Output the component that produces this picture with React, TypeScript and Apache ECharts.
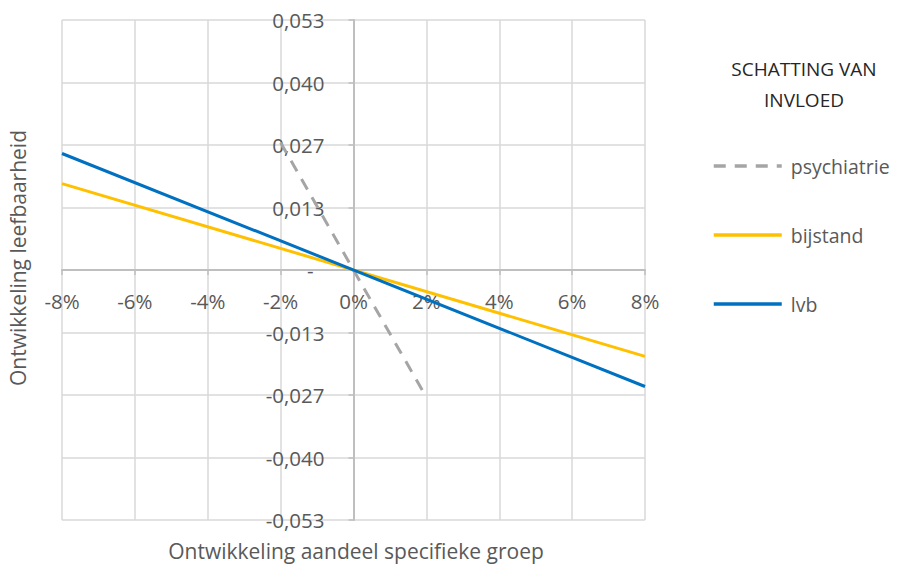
import React, { useEffect, useRef } from "react";
import * as echarts from "echarts";

const seriesNames = ["psychiatrie", "bijstand", "lvb"];
const psychiatrieX = [-2, 2];
const psychiatrieY = [0.027, -0.027];
const bijstandX = [-8, 8];
const bijstandY = [0.0183, -0.0183];
const lvbX = [-8, 8];
const lvbY = [0.0247, -0.0247];
const colors = ["#A5A5A5", "#FFC000", "#0070C0"];

const xMin = -8;
const xMax = 8;
const xInterval = 2;
const yMin = -0.053;
const yMax = 0.053;
const yInterval = 0.01325;
const yTickLabels = ["-0,053", "-0,040", "-0,027", "-0,013", "-", "0,013", "0,027", "0,040", "0,053"];

const xTitle = "Ontwikkeling aandeel specifieke groep";
const yTitle = "Ontwikkeling leefbaarheid";
const legendTitle = ["SCHATTING VAN", "INVLOED"];

const FONT = "Open Sans";
const TXT = "#595959";
const LBL = 20.5;

function pairs(xs: number[], ys: number[]) {
  return xs.map((x, i) => [x, ys[i]]);
}

export default function App() {
  const ref = useRef<HTMLDivElement>(null);
  useEffect(() => {
    if (!ref.current) return;
    const chart = echarts.init(ref.current, undefined, { renderer: "svg" });
    const legendCenters = [166, 235, 304];
    const gridLeft = 62;
    const gridRight = 252;
    const gridTop = 20;
    const gridBottom = 46;
    const plotW = 897 - gridLeft - gridRight;
    const plotH = 566 - gridTop - gridBottom;
    // shift axes onto the zero lines (symmetric ranges)
    const xOffset = -(plotH * (0 - yMin)) / (yMax - yMin);
    const yOffset = -(plotW * (0 - xMin)) / (xMax - xMin);
    chart.setOption({
      animation: false,
      grid: { left: gridLeft, right: gridRight, top: gridTop, bottom: gridBottom },
      xAxis: {
        type: "value",
        min: xMin,
        max: xMax,
        interval: xInterval,
        position: "bottom",
        offset: xOffset,
        axisLine: { onZero: false, lineStyle: { color: "#BFBFBF", width: 2 } },
        axisTick: { show: true, length: 5, lineStyle: { color: "#BFBFBF", width: 1.5 } },
        splitLine: { show: true, lineStyle: { color: "#D9D9D9", width: 1.5 } },
        axisLabel: {
          formatter: (v: number) => `${v}%`,
          color: TXT,
          fontFamily: FONT,
          fontSize: LBL,
          margin: 20,
        },
      },
      yAxis: {
        type: "value",
        min: yMin,
        max: yMax,
        interval: yInterval,
        position: "left",
        offset: yOffset,
        axisLine: { onZero: false, lineStyle: { color: "#BFBFBF", width: 2 } },
        axisTick: { show: true, length: 5, lineStyle: { color: "#BFBFBF", width: 1.5 } },
        splitLine: { show: true, lineStyle: { color: "#D9D9D9", width: 1.5 } },
        axisLabel: {
          formatter: (v: number) => {
            const i = Math.round((v - yMin) / yInterval);
            const t = yTickLabels[i];
            return t === "-" ? "{z|-}" : t;
          },
          color: TXT,
          fontFamily: FONT,
          fontSize: LBL,
          margin: 29,
          rich: {
            z: { color: TXT, fontFamily: FONT, fontSize: LBL, padding: [0, 11, 0, 0] },
          },
        },
      },
      legend: seriesNames.map((n, i) => ({
        data: [n],
        orient: "vertical",
        left: 712,
        top: legendCenters[i] - 12,
        padding: 0,
        itemWidth: 68,
        itemHeight: 24,
        itemStyle: { color: "transparent", borderColor: "transparent", borderWidth: 0, opacity: 0 },
        lineStyle: { width: 3.5 },
        textStyle: {
          color: TXT,
          fontFamily: FONT,
          fontSize: 19.5,
          lineHeight: 24,
          padding: [0, 0, 0, 4],
        },
      })),
      graphic: [
        {
          type: "text",
          x: 356,
          y: 551,
          style: {
            text: xTitle,
            fill: TXT,
            font: `21px "${FONT}"`,
            align: "center",
            verticalAlign: "middle",
          },
        },
        {
          type: "text",
          x: 18,
          y: 258,
          rotation: Math.PI / 2,
          style: {
            text: yTitle,
            fill: TXT,
            font: `21px "${FONT}"`,
            align: "center",
            verticalAlign: "middle",
          },
        },
        ...legendTitle.map((t, i) => ({
          type: "text",
          x: 804,
          y: 69 + i * 31,
          style: {
            text: t,
            fill: "#262626",
            font: `19px "${FONT}"`,
            align: "center",
            verticalAlign: "middle",
          },
        })),
      ],
      series: [
        {
          name: seriesNames[0],
          type: "line",
          data: pairs(psychiatrieX, psychiatrieY),
          symbol: "none",
          lineStyle: { color: colors[0], width: 3, type: [12, 9] },
          itemStyle: { color: colors[0] },
        },
        {
          name: seriesNames[1],
          type: "line",
          data: pairs(bijstandX, bijstandY),
          symbol: "none",
          lineStyle: { color: colors[1], width: 3 },
          itemStyle: { color: colors[1] },
        },
        {
          name: seriesNames[2],
          type: "line",
          data: pairs(lvbX, lvbY),
          symbol: "none",
          lineStyle: { color: colors[2], width: 3 },
          itemStyle: { color: colors[2] },
        },
      ],
    });
    return () => chart.dispose();
  }, []);
  return (
    <div
      ref={ref}
      style={{ position: "fixed", left: 0, top: 0, width: 897, height: 566, background: "#fff" }}
    />
  );
}
